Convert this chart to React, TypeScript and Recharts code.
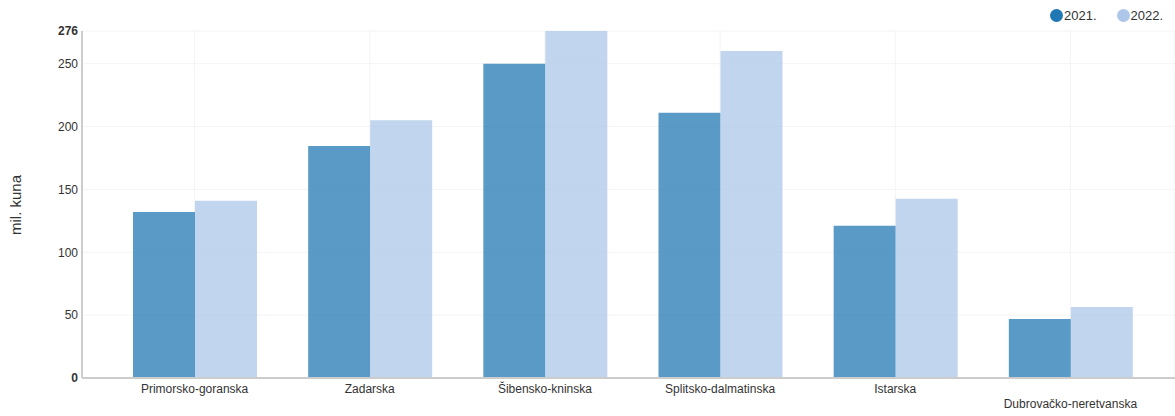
import { BarChart, Bar, XAxis, YAxis, CartesianGrid } from 'recharts';

const regions = [
    'Primorsko-goranska',
    'Zadarska',
    'Šibensko-kninska',
    'Splitsko-dalmatinska',
    'Istarska',
    'Dubrovačko-neretvanska',
];
const values2021 = [132, 184.5, 250, 211, 121, 47];
const values2022 = [141, 205, 276, 260, 142.5, 56.5];
const yTicks = [0, 50, 100, 150, 200, 250, 276];
const seriesNames = ['2021.', '2022.'];
const seriesColors = ['#1f77b4', '#aec7e8'];

const data = regions.map((name, i) => ({ name, y2021: values2021[i], y2022: values2022[i] }));

const FONT = '"Liberation Sans", Arial, sans-serif';

function YTick({ x, y, payload }: any) {
    const bold = payload.value === 0 || payload.value === 276;
    return (
        <text x={x} y={y} dy="0.355em" textAnchor="end" fontSize={12} fill="#333" fontFamily={FONT} fontWeight={bold ? 'bold' : 'normal'}>
            {payload.value}
        </text>
    );
}

function XTick({ x, y, payload, index }: any) {
    const shift = index === regions.length - 1 ? 15 : 0;
    return (
        <text x={x} y={y + shift} dy="0.71em" textAnchor="middle" fontSize={12} fill="#333" fontFamily={FONT}>
            {payload.value}
        </text>
    );
}

export default function App() {
    return (
        <div style={{ position: 'absolute', left: 0, top: 0, width: 1175, height: 416, background: '#fff' }}>
            <BarChart
                width={1175}
                height={416}
                data={data}
                margin={{ top: 31, right: 0, left: 0, bottom: 0 }}
                barGap={0}
                barSize={62}
            >
                <CartesianGrid stroke="#f4f4f4" />
                <XAxis
                    dataKey="name"
                    height={38}
                    padding={{ left: 25, right: 17 }}
                    tick={<XTick />}
                    tickLine={false}
                    tickSize={0}
                    tickMargin={6}
                    interval={0}
                    axisLine={{ stroke: '#ccc', strokeWidth: 2 }}
                />
                <YAxis
                    width={82}
                    domain={[0, 276]}
                    ticks={yTicks}
                    tick={<YTick />}
                    tickLine={false}
                    tickSize={0}
                    tickMargin={4}
                    axisLine={{ stroke: '#ccc', strokeWidth: 2 }}
                />
                <Bar dataKey="y2021" fill="#1f77b4" fillOpacity={0.74} isAnimationActive={false} />
                <Bar dataKey="y2022" fill="#aec7e8" fillOpacity={0.75} isAnimationActive={false} />
            </BarChart>
            <div
                style={{
                    position: 'absolute',
                    top: 8,
                    left: 1050,
                    display: 'flex',
                    gap: 20,
                    fontFamily: FONT,
                    fontSize: 13,
                    color: '#333',
                }}
            >
                {seriesNames.map((label, i) => (
                    <div key={label} style={{ display: 'flex', alignItems: 'center', gap: 1 }}>
                        <span style={{ width: 13, height: 13, borderRadius: 7, background: seriesColors[i], display: 'inline-block' }} />
                        <span>{label}</span>
                    </div>
                ))}
            </div>
            <div
                style={{
                    position: 'absolute',
                    left: 15,
                    top: 205,
                    transform: 'translate(-50%, -50%) rotate(-90deg)',
                    fontFamily: FONT,
                    fontSize: 15,
                    color: '#333',
                    whiteSpace: 'nowrap',
                }}
            >
                mil. kuna
            </div>
        </div>
    );
}
